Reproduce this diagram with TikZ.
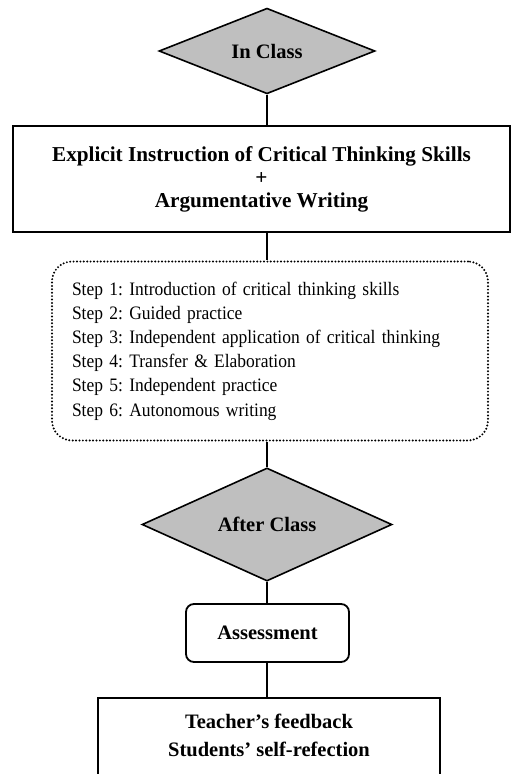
\documentclass[tikz,border=0pt]{standalone}
\usepackage{fontspec}
\setmainfont{Liberation Serif}
\newfontfamily\stepfont[FakeStretch=0.92, WordSpace=0.7]{Liberation Serif}
\usetikzlibrary{shapes}
\usetikzlibrary{positioning}
\tikzset{
    phase/.style = {diamond, line width=1.6pt, draw=black, fill=black!25, inner sep=0pt, font=\fontsize{20.5}{23}\selectfont\bfseries},
    mainbox/.style = {rectangle, line width=1.6pt, draw=black, align=center, font=\fontsize{21.2}{23}\selectfont\bfseries},
    stepbox/.style = {rectangle, rounded corners=20pt, draw=black, line width=2.2pt, line cap=round, dash pattern=on 0pt off 3.4pt, align=left, font=\stepfont\fontsize{19}{24.2}\selectfont\frenchspacing},
    assessbox/.style = {rectangle, rounded corners=8pt, line width=1.8pt, draw=black, font=\fontsize{20.5}{23}\selectfont\bfseries},
    link/.style = {line width=1.6pt},
}

\begin{document}
\begin{tikzpicture}[x=1pt,y=-1pt]
\useasboundingbox (0,0) rectangle (512,774);
\clip (0,0) rectangle (512,774);
%
\node[phase, minimum width=216pt, minimum height=82pt] at (267, 51) (inclass) {In Class};
\node[mainbox, minimum width=497pt, minimum height=106pt] at (261.5, 179) (instr) {Explicit Instruction of Critical Thinking Skills\\+\\Argumentative Writing};
\node[stepbox, text width=396pt, inner xsep=20pt, minimum height=179pt] at (270, 351) (steps) {Step 1: Introduction of critical thinking skills\\Step 2: Guided practice\\Step 3: Independent application of critical thinking\\Step 4: Transfer \& Elaboration\\Step 5: Independent practice\\Step 6: Autonomous writing};
\node[phase, minimum width=250pt, minimum height=103pt] at (267, 524.5) (afterclass) {After Class};
\node[assessbox, minimum width=163pt, minimum height=58pt] at (267.5, 633) (assess) {Assessment};
\node[mainbox, font=\fontsize{20.5}{28}\selectfont\bfseries, minimum width=342pt, inner ysep=16pt, text depth=60pt, anchor=north] at (269, 697) (feedback) {Teacher's feedback\\Students' self-refection};
%
\draw[link] (inclass.south) -- (inclass.south |- instr.north);
\draw[link] (inclass.south |- instr.south) -- (inclass.south |- steps.north);
\draw[link] (inclass.south |- steps.south) -- (afterclass.north);
\draw[link] (afterclass.south) -- (assess.north -| afterclass.south);
\draw[link] (afterclass.south |- assess.south) -- (afterclass.south |- feedback.north);

\end{tikzpicture}
\end{document}
